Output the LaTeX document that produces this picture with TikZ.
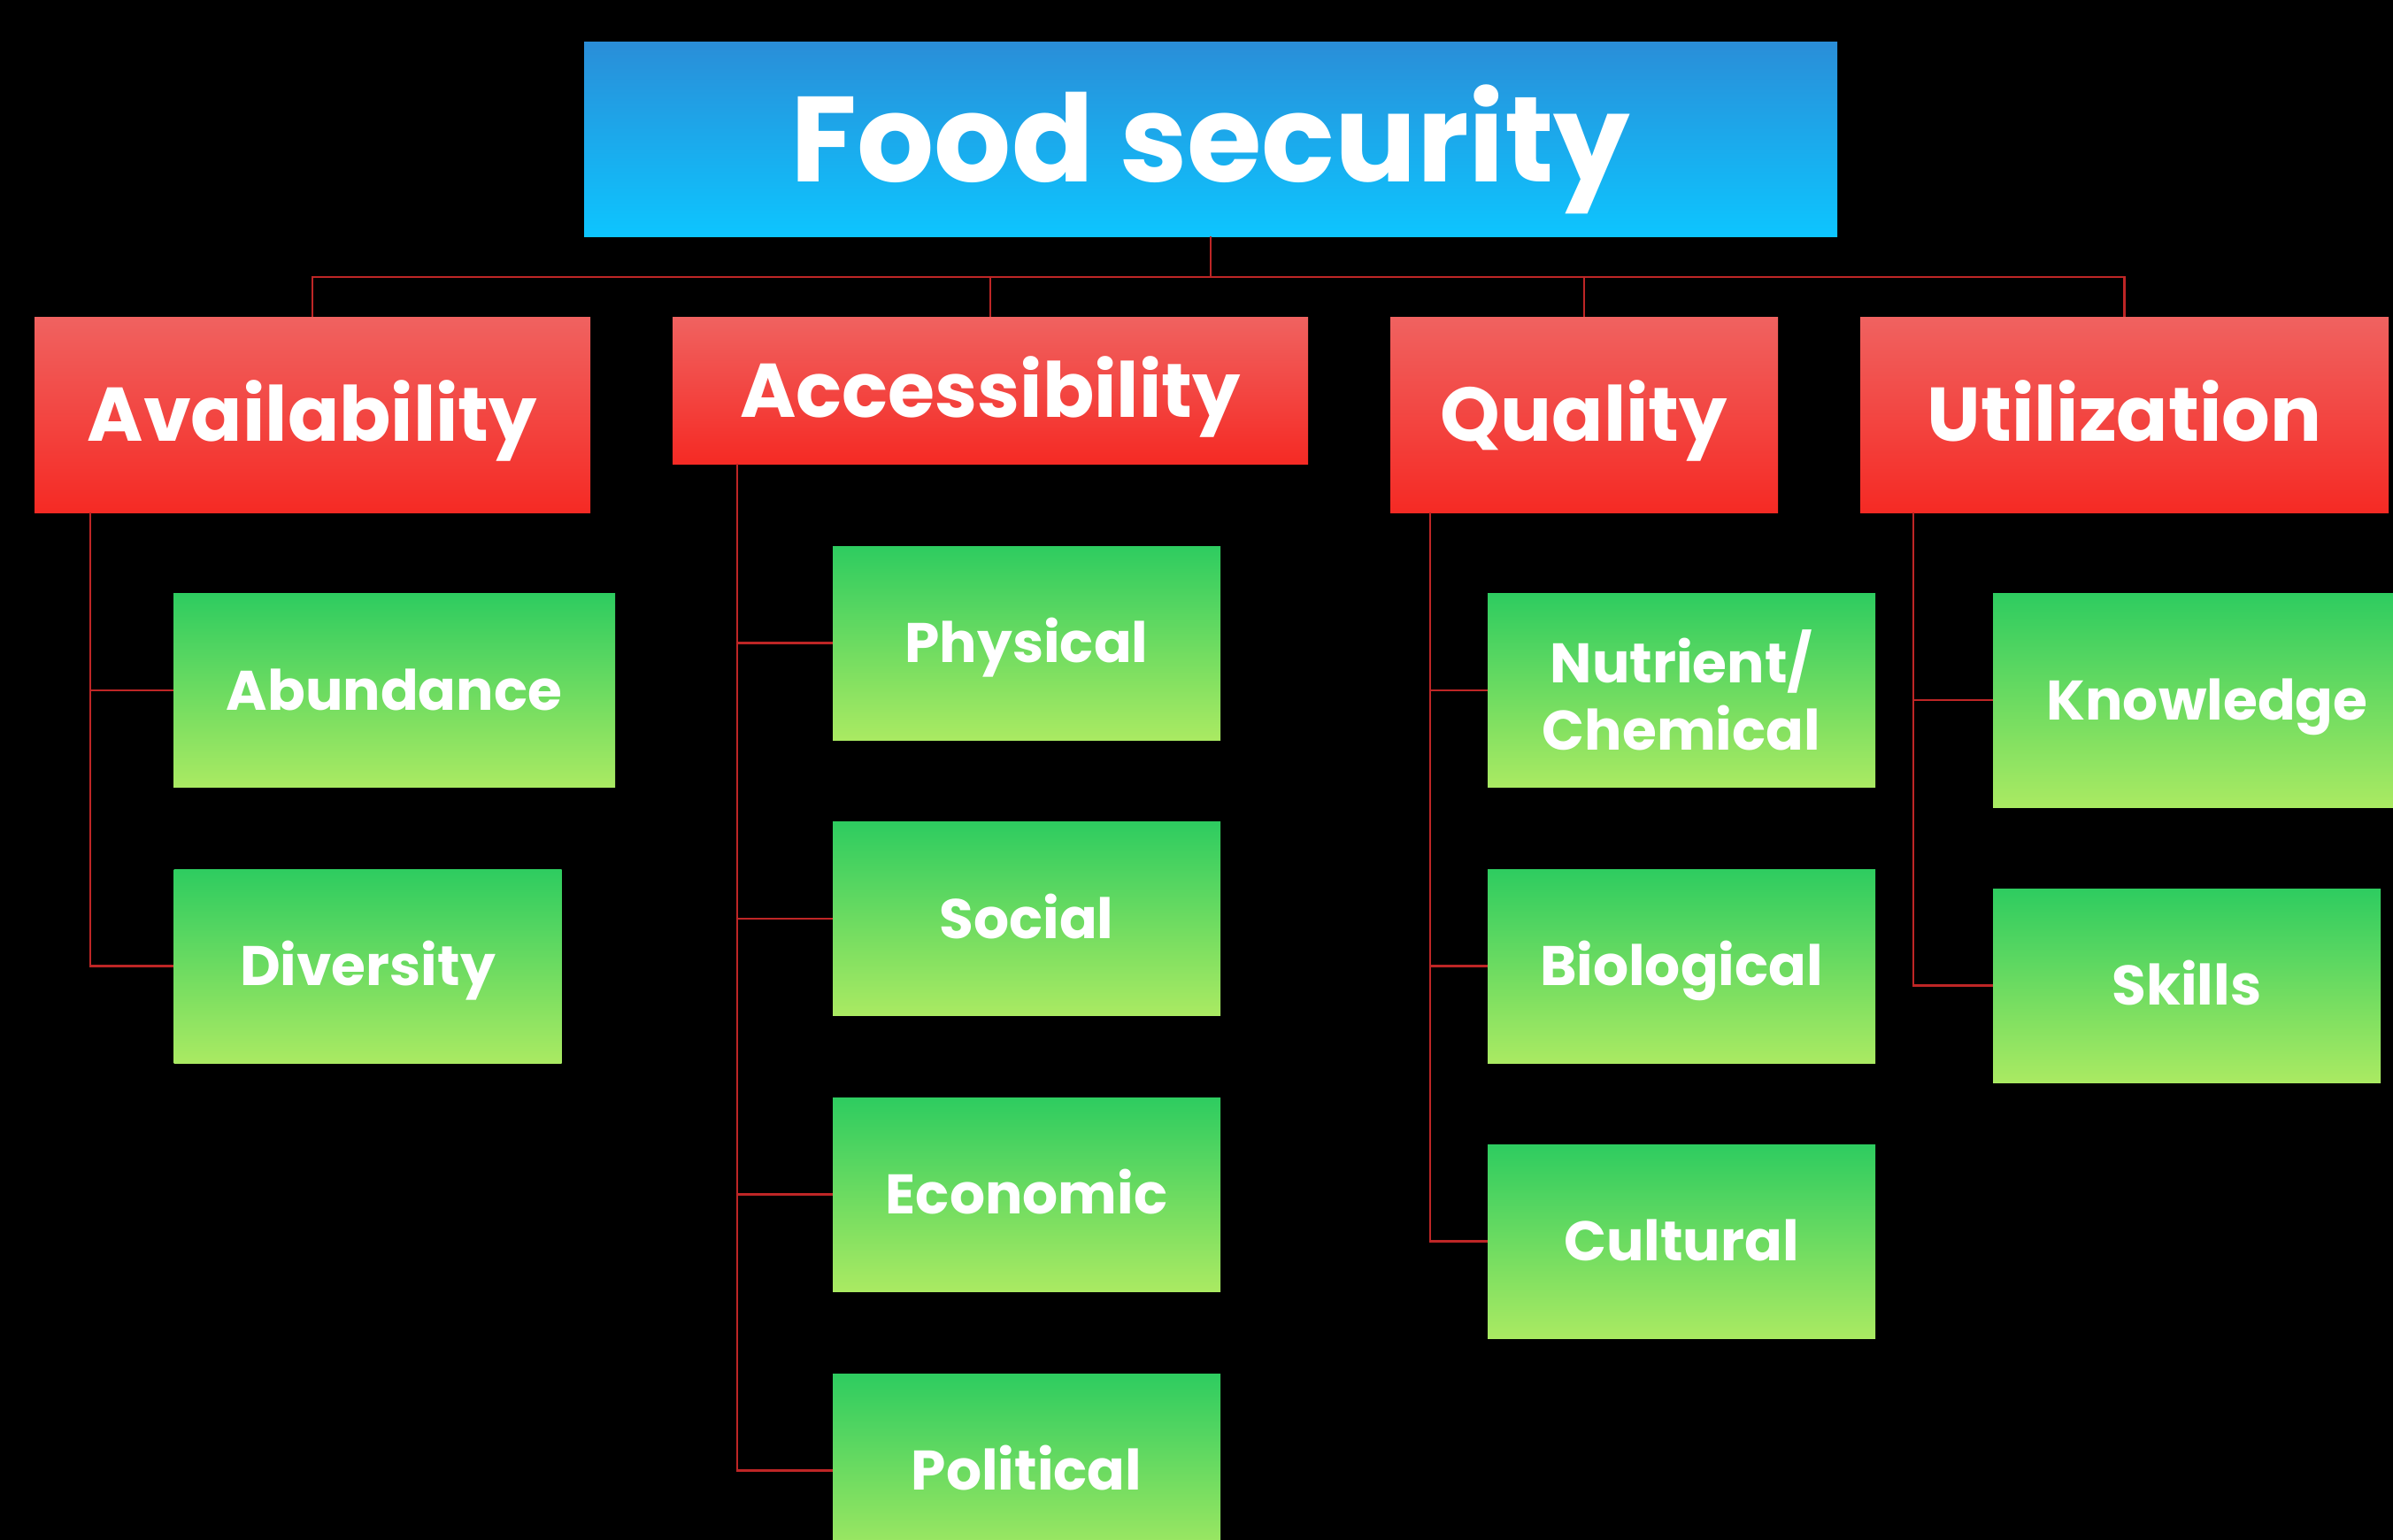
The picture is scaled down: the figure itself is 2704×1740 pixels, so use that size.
\documentclass[tikz,border=0pt]{standalone}
\usepackage{fontspec}
\setmainfont{Poppins}
\definecolor{bluetop}{RGB}{42,142,216}
\definecolor{bluebot}{RGB}{13,197,255}
\definecolor{redtop}{RGB}{240,98,96}
\definecolor{redbot}{RGB}{245,42,36}
\definecolor{greentop}{RGB}{46,204,96}
\definecolor{greenbot}{RGB}{170,234,98}
\definecolor{linkred}{RGB}{190,38,38}
\tikzset{
  rootbox/.style={top color=bluetop, bottom color=bluebot, text=white, inner sep=0pt,
    minimum width=1416pt, minimum height=220pt, text height=96pt, text depth=0pt,
    font=\fontsize{137}{145}\selectfont\bfseries},
  catbox/.style={top color=redtop, bottom color=redbot, text=white, inner sep=0pt,
    minimum height=221pt, text height=60pt, text depth=0pt,
    font=\fontsize{86}{92}\selectfont\bfseries},
  itembox/.style={top color=greentop, bottom color=greenbot, text=white, inner sep=0pt,
    minimum width=438pt, minimum height=219pt, align=center, text height=44pt, text depth=0pt,
    font=\fontsize{63}{76}\selectfont\bfseries},
  link/.style={draw=linkred, line width=2.5pt}
}
\begin{document}
\begin{tikzpicture}[x=1pt,y=1pt,yscale=-1,xscale=1]
\useasboundingbox (0,0) rectangle (2704,1740);
\clip (0,0) rectangle (2704,1740);
\fill[black] (0,0) rectangle (2704,1740);

% Top box
\node[rootbox] (food) at (1368,157) {Food security};

% Category boxes
\node[catbox, minimum width=628pt] (avail) at (353,468.5) {Availability};
\node[catbox, minimum width=718pt, minimum height=166pt] (access) at (1119,441) {Accessibility};
\node[catbox, minimum width=438pt] (quality) at (1790,468.5) {Quality};
\node[catbox, minimum width=597pt] (util) at (2400.5,468.5) {Utilization};

% Availability items
\node[itembox, minimum width=499pt] (abund) at (445.5,780) {Abundance};
\node[itembox] (divers) at (415.5,1091.5) {Diversity};

% Accessibility items
\node[itembox] (phys) at (1160,726.5) {Physical};
\node[itembox] (social) at (1160,1038) {Social};
\node[itembox] (econ) at (1160,1349.5) {Economic};
\node[itembox] (polit) at (1160,1661.5) {Political};

% Quality items
\node[itembox, text height=, text depth=] (nutri) at (1900,780) {Nutrient/\\Chemical};
\node[itembox] (bio) at (1900,1091.5) {Biological};
\node[itembox] (cult) at (1900,1402.5) {Cultural};

% Utilization items
\node[itembox, minimum width=484pt, minimum height=242pt] (know) at (2494,791) {Knowledge};
\node[itembox] (skills) at (2471,1113.5) {Skills};

% Bus under the top box
\coordinate (bus) at (0,313);
\draw[link] (food.south) -- (food.south |- bus);
\draw[link] (avail.north) -- (avail.north |- bus) -- (util.north |- bus) -- (util.north);
\draw[link] (access.north) -- (access.north |- bus);
\draw[link] (quality.north) -- (quality.north |- bus);

% Spines
\coordinate (avspine) at ([xshift=63pt]avail.south west);
\coordinate (acspine) at ([xshift=73pt]access.south west);
\coordinate (quspine) at ([xshift=45pt]quality.south west);
\coordinate (utspine) at ([xshift=60pt]util.south west);

\draw[link] (avspine) |- (abund.west);
\draw[link] (avspine) |- (divers.west);
\foreach \n in {phys,social,econ,polit}
  \draw[link] (acspine) |- (\n.west);
\foreach \n in {nutri,bio,cult}
  \draw[link] (quspine) |- (\n.west);
\draw[link] (utspine) |- (know.west);
\draw[link] (utspine) |- (skills.west);

\end{tikzpicture}
\end{document}
